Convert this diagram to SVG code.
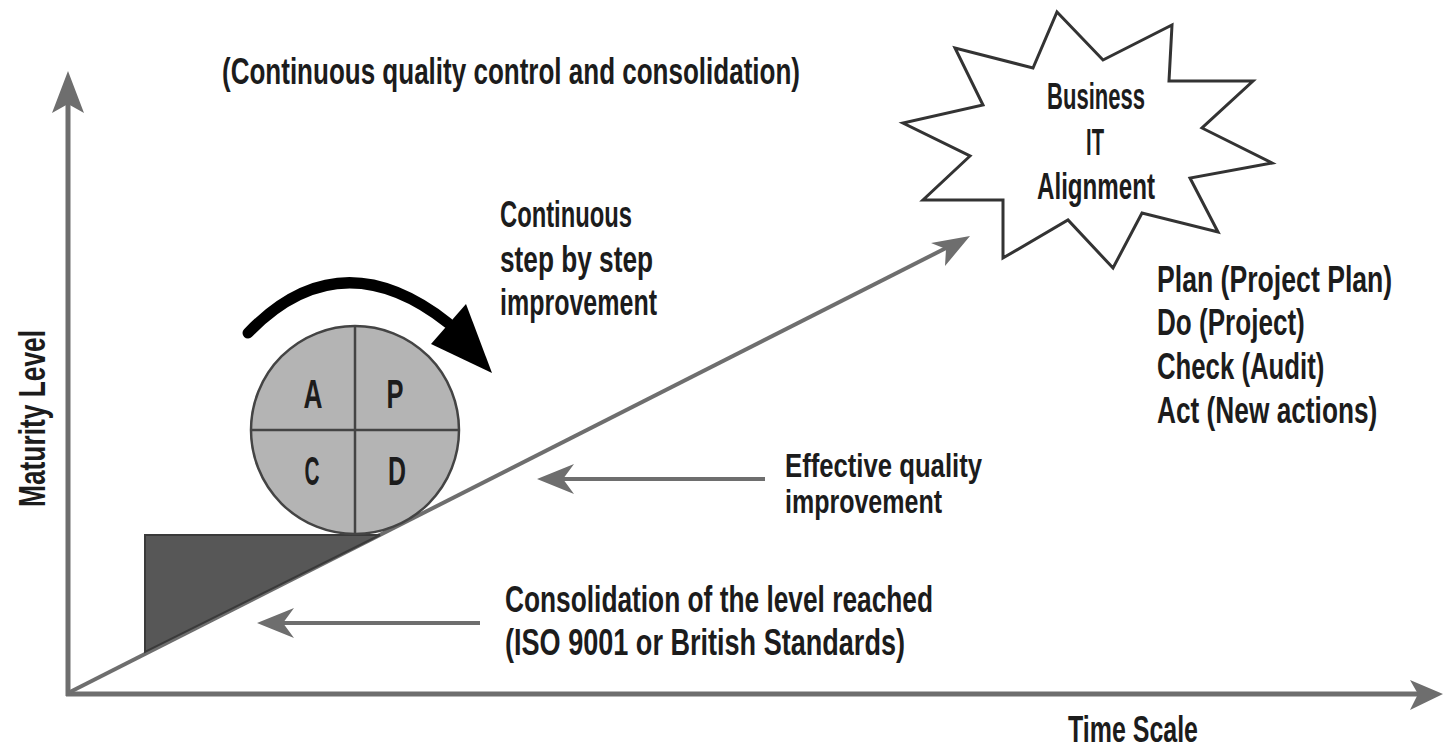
<svg xmlns="http://www.w3.org/2000/svg" width="1445" height="749" viewBox="0 0 1445 749">
<style>
  text { font-family: "Liberation Sans", Arial, sans-serif; font-weight: bold; fill: #1c1c1c; font-size: 37px; }
  .axis { stroke: #6e6e6e; stroke-width: 5; fill: none; }
  .gline { stroke: #6e6e6e; stroke-width: 4; fill: none; }
  .ghead { fill: #6e6e6e; }
  .letter { font-size: 40px; }
  .mid { font-size: 34px; }
</style>
<rect width="1445" height="749" fill="#ffffff"/>
<g id="connectors">
  <line class="axis" x1="68" y1="696" x2="68" y2="100"/>
  <path class="ghead" d="M68,71 L84,113 L68,104 L52,113 Z"/>
  <line class="axis" x1="66" y1="694" x2="1420" y2="694"/>
  <path class="ghead" d="M1443,694 L1410,710 L1418,694 L1410,680 Z"/>
  <line class="gline" x1="68" y1="693" x2="950" y2="246"/>
  <path class="ghead" d="M970,236 L945,266 L946,249 L931,243 Z"/>
  <line class="gline" x1="765" y1="479" x2="548" y2="479"/>
  <path class="ghead" d="M537,479 L574,464 L563,479 L574,494 Z"/>
  <line class="gline" x1="480" y1="623" x2="268" y2="623"/>
  <path class="ghead" d="M257,623 L294,608 L283,623 L294,638 Z"/>
  <path d="M248,333 Q340,238 448,323" stroke="#000" stroke-width="11" fill="none" stroke-linecap="round"/>
  <path d="M431,344 L466,304 L492,373 Z" fill="#000"/>
</g>
<g id="wedge">
  <path d="M145,535 L380,535 L145,652 Z" fill="#575757" stroke="#3a3a3a" stroke-width="2"/>
</g>
<g id="pdca">
  <circle cx="355" cy="430" r="104" fill="#b4b4b4" stroke="#444" stroke-width="2.5"/>
  <line x1="355" y1="326" x2="355" y2="534" stroke="#444" stroke-width="2.5"/>
  <line x1="251" y1="430" x2="459" y2="430" stroke="#444" stroke-width="2.5"/>
  <text class="letter" x="313" y="408" text-anchor="middle" textLength="19" lengthAdjust="spacingAndGlyphs">A</text>
  <text class="letter" x="395" y="408" text-anchor="middle" textLength="17" lengthAdjust="spacingAndGlyphs">P</text>
  <text class="letter" x="312" y="485" text-anchor="middle" textLength="15" lengthAdjust="spacingAndGlyphs">C</text>
  <text class="letter" x="397" y="485" text-anchor="middle" textLength="18" lengthAdjust="spacingAndGlyphs">D</text>
</g>
<g id="star">
  <polygon points="1057,12 1103,60 1172,25 1169,81 1253,81 1202,128 1272,163 1190,178 1218,232 1142,213 1113,268 1068,220 1003,258 1003,200 923,200 970,156 903,123 983,105 955,48 1033,68" fill="#fff" stroke="#333" stroke-width="3" stroke-linejoin="miter"/>
  <text x="1096" y="109" text-anchor="middle" textLength="98" lengthAdjust="spacingAndGlyphs">Business</text>
  <text x="1095" y="155" text-anchor="middle" textLength="18" lengthAdjust="spacingAndGlyphs">IT</text>
  <text x="1096" y="199" text-anchor="middle" textLength="118" lengthAdjust="spacingAndGlyphs">Alignment</text>
</g>
<g id="title">
  <text x="222" y="84" textLength="578" lengthAdjust="spacingAndGlyphs">(Continuous quality control and consolidation)</text>
</g>
<g id="step-label">
  <text x="500" y="227" textLength="132" lengthAdjust="spacingAndGlyphs">Continuous</text>
  <text x="500" y="272" textLength="153" lengthAdjust="spacingAndGlyphs">step by step</text>
  <text x="500" y="315" textLength="157" lengthAdjust="spacingAndGlyphs">improvement</text>
</g>
<g id="pdca-list">
  <text transform="translate(1157,292) scale(0.72,1)">Plan (Project Plan)</text>
  <text transform="translate(1157,335) scale(0.705,1)">Do (Project)</text>
  <text transform="translate(1157,379) scale(0.696,1)">Check (Audit)</text>
  <text transform="translate(1157,423) scale(0.71,1)">Act (New actions)</text>
</g>
<g id="effective-label">
  <text class="mid" x="785" y="477" textLength="197" lengthAdjust="spacingAndGlyphs">Effective quality</text>
  <text class="mid" x="785" y="513" textLength="157" lengthAdjust="spacingAndGlyphs">improvement</text>
</g>
<g id="consolidation-label">
  <text x="505" y="612" textLength="428" lengthAdjust="spacingAndGlyphs">Consolidation of the level reached</text>
  <text x="505" y="655" textLength="400" lengthAdjust="spacingAndGlyphs">(ISO 9001 or British Standards)</text>
</g>
<g id="x-label">
  <text x="1068" y="742" textLength="130" lengthAdjust="spacingAndGlyphs">Time Scale</text>
</g>
<g id="y-label">
  <text transform="translate(45,507) rotate(-90)" x="0" y="0" textLength="177" lengthAdjust="spacingAndGlyphs">Maturity Level</text>
</g>
</svg>
